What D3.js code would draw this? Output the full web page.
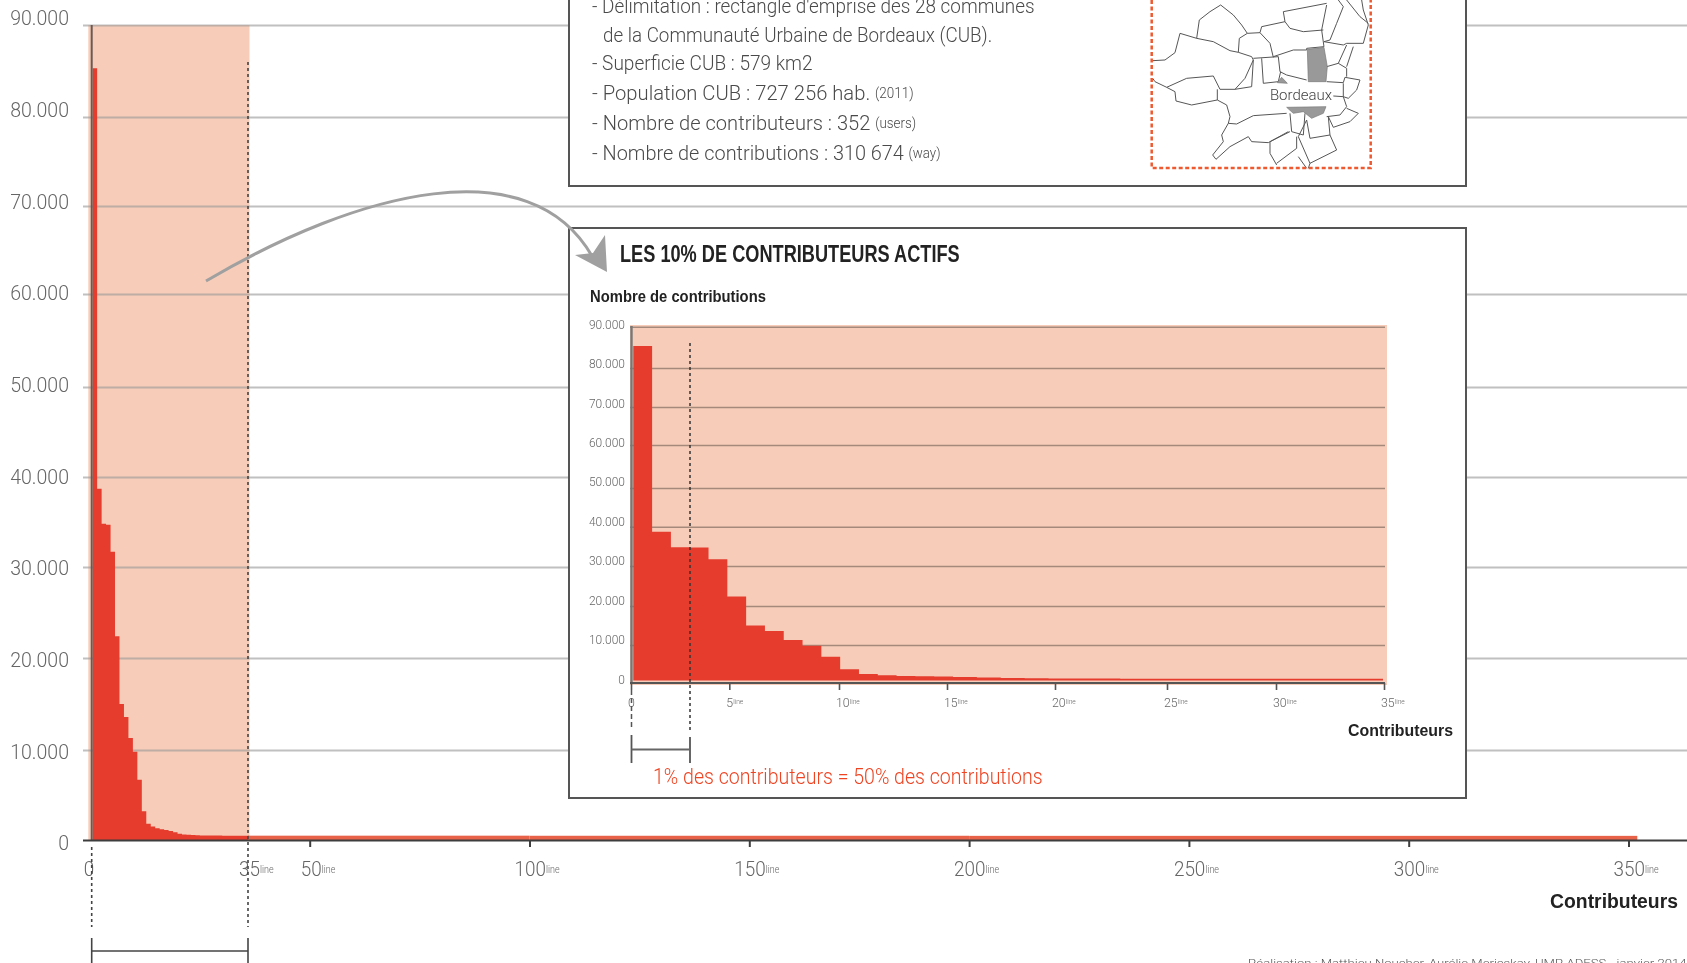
<!DOCTYPE html>
<html><head><meta charset="utf-8">
<style>
html,body{margin:0;padding:0;background:#fff;overflow:hidden}
svg{display:block;filter:blur(0.6px)}
text{font-family:Roboto,"Liberation Sans",sans-serif;font-weight:300}
.b{font-weight:700;fill:#222;font-family:"Liberation Sans",sans-serif}
</style>
<script src="https://cdn.jsdelivr.net/npm/d3@7"></script>
</head><body><svg id="c" width="1687" height="963"></svg>
<script>
// ---- data ----
const topContributors = [85300,38700,34800,34700,31700,22400,15000,13600,11300,9800,6700,3200,1800,1500,1300,1200,1100,1000,850,700,620,580,550,530,510,500,500,490,490,480,480,480,470,470,470];
const tailFrom = [35,100,200];
const tailTo = [100,200,352];
const tailValues = [480,470,460];
const yTicks = [0,10000,20000,30000,40000,50000,60000,70000,80000,90000];
const mainXTicks = [50,100,150,200,250,300,350];
const mainXLabels = [0,35,50,100,150,200,250,300,350];
const insetXTicks = [0,5,10,15,20,25,30,35];
const infoLines = [
 ["- Délimitation : rectangle d'emprise des 28 communes",""],
 ["de la Communauté Urbaine de Bordeaux (CUB).",""],
 ["- Superficie CUB : 579 km2",""],
 ["- Population CUB : 727 256 hab.","(2011)"],
 ["- Nombre de contributeurs : 352","(users)"],
 ["- Nombre de contributions : 310 674","(way)"]];

// ---- scales (the source graphic is slightly uneven, so they are piecewise) ----
const yMain = d3.scaleLinear().domain(yTicks).range([840,750,658,567,477,387,294,206,117,25]);
const yMainLabel = d3.scaleLinear().domain([0,90000]).range([843,18]);
const xMain = d3.scaleLinear().domain([0,35,50,350]).range([91.7,248,309.7,1628.5]);
const yInset = d3.scaleLinear().domain(yTicks).range([680.5,645,606,566,526.7,488,445,407,368,326.7]);
const yInsetLabel = d3.scaleLinear().domain([0,90000]).range([679,324]);
const xInset = d3.scaleLinear().domain([0,5,10,15,20,25,30,35]).range([631,729.3,839,947,1055,1167,1276,1384]);
const xInsetBar = d3.scaleLinear().domain([0,17,35]).range([633.3,953,1383]);

const RED="#e63c2e", PINK="#f7cdb9", TAIL="#e8624a", LBL="#666", DARK="#3d3d3d";
const svg=d3.select("#c");
const fmt=d=>d===0?"0":(d/1000)+".000";

// squeeze a text horizontally to a width in px (the source face is condensed)
function squeeze(t,width,factor){
  const x=+t.attr("x"), y=+t.attr("y");
  const f=factor||width/t.node().getComputedTextLength();
  t.attr("x",0).attr("y",0).attr("transform",`translate(${x},${y}) scale(${f},1)`);
  return t;
}
function label(g,x,y,num,unit,fs,us,fill,f){
  const t=g.append("text").attr("x",x).attr("y",y).attr("dominant-baseline","central").attr("fill",fill).attr("font-size",fs).text(num);
  if(unit) t.append("tspan").attr("font-size",us).text(unit);
  return squeeze(t,0,f);
}
function stepArea(x,y,off){
  const pts=topContributors.map((v,i)=>[i,v]).concat([[topContributors.length,topContributors[topContributors.length-1]]]);
  return d3.area().x(d=>x(d[0])+off).y0(y(0)).y1(d=>y(d[1])).curve(d3.curveStepAfter)(pts);
}

// ---- main chart ----
const m=svg.append("g");
m.append("rect").attr("x",88.3).attr("y",25).attr("width",xMain(35)+1.5-88.3).attr("height",yMain(0)-25).attr("fill",PINK);
const gridM=m.append("g").attr("transform","translate(83,0)")
  .call(d3.axisLeft(yMain).tickValues(yTicks.slice(1)).tickSize(-1604).tickFormat(""));
gridM.select(".domain").remove();
gridM.selectAll("line").attr("stroke","#999").attr("stroke-opacity",.62).attr("stroke-width",2);
m.append("path").attr("d",stepArea(xMain,yMain,1)).attr("fill",RED);
m.selectAll(".tail").data(tailValues).join("rect").attr("class","tail")
  .attr("x",(d,i)=>xMain(tailFrom[i])).attr("width",(d,i)=>xMain(tailTo[i])-xMain(tailFrom[i]))
  .attr("y",d=>yMain(d)).attr("height",d=>yMain(0)-yMain(d)).attr("fill",TAIL);
m.append("line").attr("x1",91.7).attr("x2",91.7).attr("y1",25).attr("y2",840).attr("stroke","#6a5a55").attr("stroke-width",2);
const axM=m.append("g").attr("transform","translate(0,840)")
  .call(d3.axisBottom(xMain).tickValues(mainXTicks).tickSize(7).tickFormat(""));
axM.select(".domain").remove();
axM.selectAll("line").attr("stroke",DARK).attr("stroke-width",2);
m.append("line").attr("x1",83).attr("x2",1687).attr("y1",840.5).attr("y2",840.5).attr("stroke",DARK).attr("stroke-width",2);
yTicks.forEach(d=>{
  squeeze(m.append("text").attr("x",69).attr("y",yMainLabel(d)).attr("text-anchor","end").attr("dominant-baseline","central")
   .attr("font-size",21).attr("fill",LBL).text(fmt(d)),0,0.93);
});
mainXLabels.forEach(d=>{
  const off=d===0?-8:(d<100?-9:-15);
  label(m,xMain(d)+off,869,String(d),d===0?"":"line",21,10,LBL,0.9);
});
[[xMain(0),847,927],[xMain(35),62,927]].forEach(a=>{
  m.append("line").attr("x1",a[0]).attr("x2",a[0]).attr("y1",a[1]).attr("y2",a[2])
   .attr("stroke","#444").attr("stroke-width",1.6).attr("stroke-dasharray","3 3");
});
[xMain(0),xMain(35)].forEach(x=>m.append("line").attr("x1",x).attr("x2",x).attr("y1",938).attr("y2",963).attr("stroke","#444").attr("stroke-width",1.6));
m.append("line").attr("x1",xMain(0)).attr("x2",xMain(35)).attr("y1",951).attr("y2",951).attr("stroke","#444").attr("stroke-width",1.6);
squeeze(m.append("text").attr("class","b").attr("x",1678).attr("y",900.5).attr("text-anchor","end").attr("dominant-baseline","central").attr("font-size",21).text("Contributeurs"),128);
squeeze(m.append("text").attr("x",1248).attr("y",967).attr("font-size",11).attr("fill","#555").text("Réalisation : Matthieu Noucher, Aurélie Mericskay, UMR ADESS - janvier 2014"),439);

// ---- info box ----
svg.append("rect").attr("x",569).attr("y",-20).attr("width",897).attr("height",206).attr("fill","#fff").attr("stroke","#555").attr("stroke-width",2);
const lineY=[6,35,63,93,123,153], lineX=[592,603,592,592,592,592], lineW=[443,389.5,220.6,317,319.6,344];
infoLines.forEach((l,i)=>{
  const t=svg.append("text").attr("x",lineX[i]).attr("y",lineY[i]).attr("dominant-baseline","central").attr("font-size",21).attr("fill","#4a4a4a").text(l[0]);
  if(l[1]) t.append("tspan").attr("font-size",14).attr("dx",5).text(l[1]);
  squeeze(t,lineW[i]);
});

// ---- location map (illustration) ----
const communes=[
"M200,115L208,60L240,35L272,15L310,45L335,75L352,100",
"M68,182L105,180L135,158L150,100L200,115L250,125L300,152L325,157L365,170L370,180L345,235L315,268L270,268L250,228L170,235L110,262L75,245L68,235",
"M110,262L135,275L138,303L185,315L262,300L262,268",
"M262,300L290,315L300,350L295,370L275,405L280,425L248,465L258,478L300,440L355,410L365,425L415,428L475,395",
"M295,370L320,372L370,347L470,340",
"M325,157L328,115L352,100L390,98L420,130L430,172",
"M390,98L395,80L465,65L480,85L520,95L580,90",
"M465,65L460,35L590,10",
"M430,170L490,150L530,150L530,145L582,140L575,90L590,15",
"M370,175L445,170L450,215L470,225L530,240",
"M395,175L400,250L445,245L452,215",
"M370,180L365,260L315,268",
"M582,125L640,135L650,130L700,130L715,75L700,30L695,0",
"M590,245L640,248L645,232L690,240L680,270L655,295L640,290L610,288",
"M640,250L640,290L650,320L630,345L590,350",
"M650,325L685,340L660,365L610,382L595,350",
"M530,360L540,415L600,405L595,350",
"M600,405L620,450L540,490L505,410L530,360",
"M480,340L485,395L520,405L525,340",
"M480,395L420,425L420,460L440,495",
"M500,410L500,445L440,490",
"M505,470L530,505",
"M540,490L535,505",
"M582,125L600,120L620,70L640,20L625,0",
"M650,0L690,50L715,70",
"M650,135L625,190L650,205L650,230",
"M625,190L590,200",
"M670,140L650,200"];
const bordeaux=["M532,148L582,142L592,200L588,245L535,245Z","M470,322L588,320L580,340L545,355L520,335L490,340Z","M442,248L455,232L472,250Z"];
const map=svg.append("g").attr("transform","translate(1130,0) scale(0.3333)");
map.selectAll(".cm").data(communes).join("path").attr("class","cm").attr("d",d=>d).attr("fill","none").attr("stroke","#555").attr("stroke-width",3);
map.selectAll(".bx").data(bordeaux).join("path").attr("class","bx").attr("d",d=>d).attr("fill","#999").attr("stroke","#777").attr("stroke-width",2);
svg.append("text").attr("x",1301).attr("y",95).attr("text-anchor","middle").attr("dominant-baseline","central").attr("font-size",15).attr("fill","#444").text("Bordeaux");
svg.append("rect").attr("x",1151.7).attr("y",-10).attr("width",219).attr("height",178).attr("fill","none").attr("stroke","#ee5a30").attr("stroke-width",2.5).attr("stroke-dasharray","4 2.5");

// ---- inset box ----
svg.append("rect").attr("x",569).attr("y",228).attr("width",897).attr("height",570).attr("fill","#fff").attr("stroke","#555").attr("stroke-width",2);
const n=svg.append("g");
n.append("rect").attr("x",630).attr("y",325).attr("width",757).attr("height",360).attr("fill",PINK);
const gridI=n.append("g").attr("transform","translate(630,0)")
  .call(d3.axisLeft(yInset).tickValues(yTicks.slice(1)).tickSize(-755).tickFormat(""));
gridI.select(".domain").remove();
gridI.selectAll("line").attr("stroke","#a58a7c").attr("stroke-width",1.6);
n.append("path").attr("d",stepArea(xInsetBar,yInset,0)).attr("fill",RED);
n.append("line").attr("x1",631.5).attr("x2",631.5).attr("y1",326).attr("y2",684).attr("stroke","#777").attr("stroke-width",2.4);
const axI=n.append("g").attr("transform","translate(0,683)")
  .call(d3.axisBottom(xInset).tickValues(insetXTicks).tickSize(7).tickFormat(""));
axI.select(".domain").remove();
axI.selectAll("line").attr("stroke","#555").attr("stroke-width",1.6);
n.append("line").attr("x1",630).attr("x2",1385).attr("y1",683).attr("y2",683).attr("stroke","#555").attr("stroke-width",1.8);
yTicks.forEach(d=>{
  squeeze(n.append("text").attr("x",625).attr("y",yInsetLabel(d)).attr("text-anchor","end").attr("dominant-baseline","central")
   .attr("font-size",13).attr("fill",LBL).text(fmt(d)),0,0.92);
});
insetXTicks.forEach(d=>{
  label(n,xInset(d)-3,702,String(d),d===0?"":"line",13,7,LBL,0.95);
});
n.append("line").attr("x1",690).attr("x2",690).attr("y1",343).attr("y2",732).attr("stroke","#333").attr("stroke-width",1.5).attr("stroke-dasharray","3 3");
n.append("line").attr("x1",631.5).attr("x2",631.5).attr("y1",690).attr("y2",730).attr("stroke","#555").attr("stroke-width",1.5).attr("stroke-dasharray","5 3");
[[631.5,735],[690,737]].forEach(a=>n.append("line").attr("x1",a[0]).attr("x2",a[0]).attr("y1",a[1]).attr("y2",763).attr("stroke","#555").attr("stroke-width",1.8));
n.append("line").attr("x1",631.5).attr("x2",690).attr("y1",749.5).attr("y2",749.5).attr("stroke","#666").attr("stroke-width",2);
squeeze(n.append("text").attr("x",653).attr("y",777).attr("dominant-baseline","central").attr("font-size",22).attr("fill","#ee4422").text("1% des contributeurs = 50% des contributions"),390);
squeeze(n.append("text").attr("class","b").attr("x",620).attr("y",254).attr("dominant-baseline","central").attr("font-size",23).text("LES 10% DE CONTRIBUTEURS ACTIFS"),340);
squeeze(n.append("text").attr("class","b").attr("x",590).attr("y",296.5).attr("dominant-baseline","central").attr("font-size",16).text("Nombre de contributions"),176);
squeeze(n.append("text").attr("class","b").attr("x",1453).attr("y",729.5).attr("text-anchor","end").attr("dominant-baseline","central").attr("font-size",17).text("Contributeurs"),105);

// ---- arrow ----
svg.append("path").attr("d","M206,281C360,190 530,148 592,256").attr("fill","none").attr("stroke","#a0a0a0").attr("stroke-width",3);
svg.append("path").attr("d","M607,272L605,235L593,253L575,255Z").attr("fill","#a0a0a0");
</script></body></html>
